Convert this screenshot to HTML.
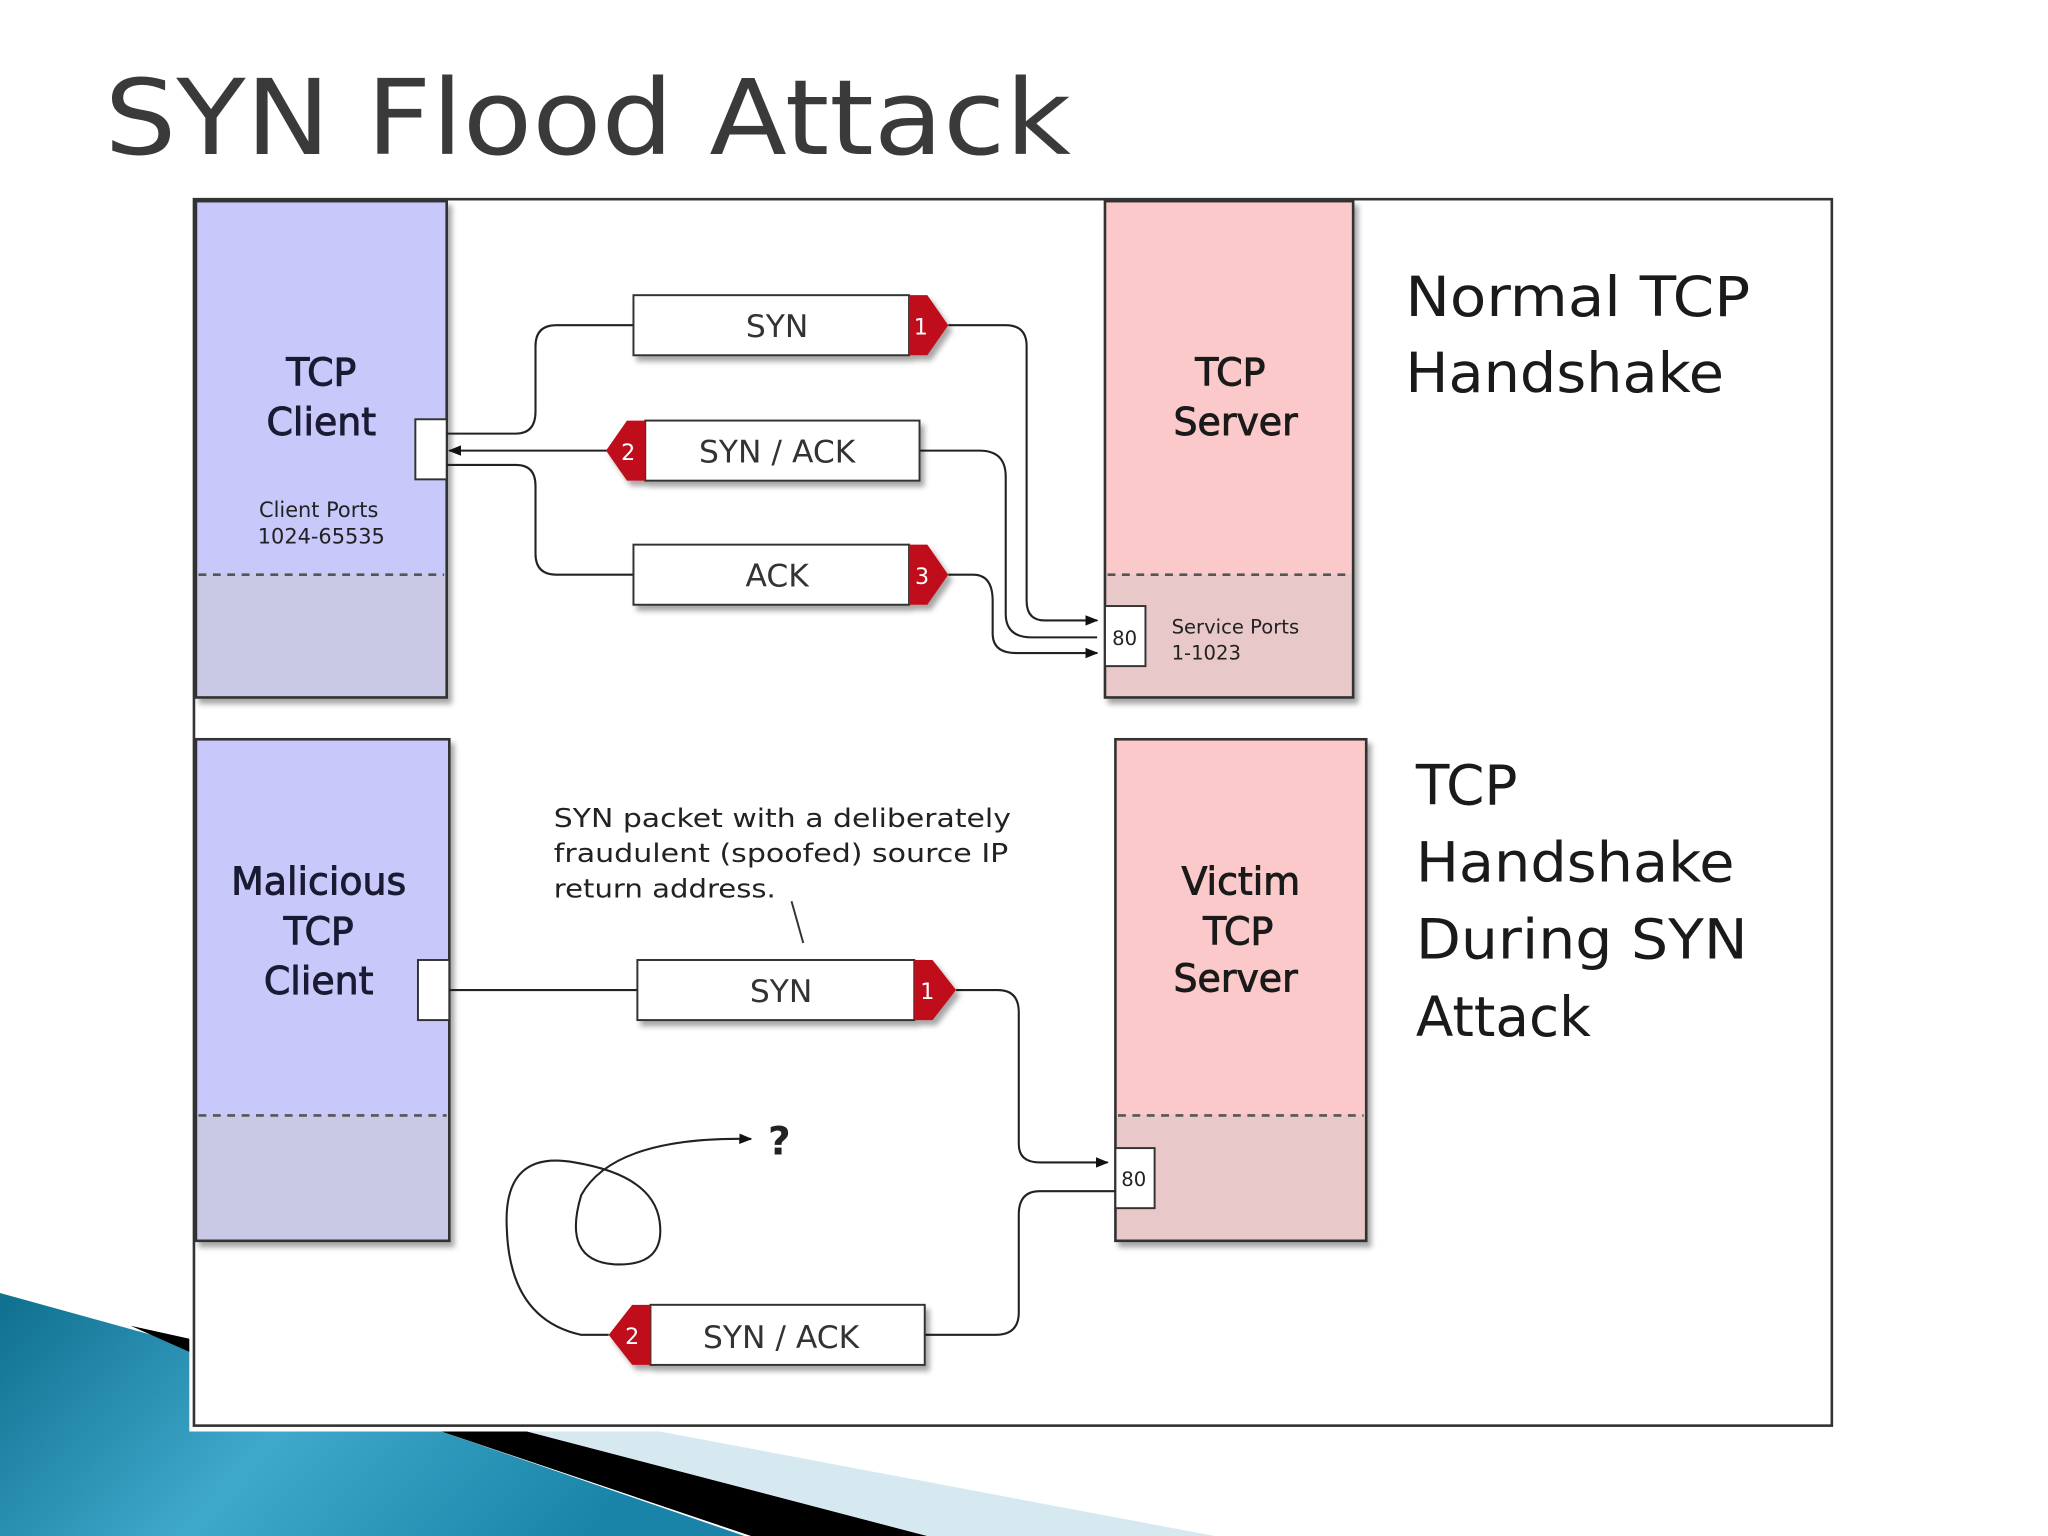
<!DOCTYPE html>
<html><head><meta charset="utf-8"><style>
html,body{margin:0;padding:0;background:#fff;}
svg{display:block;}
text{font-family:"DejaVu Sans","Liberation Sans",sans-serif;}
.sb{stroke-width:0.7px;}
</style></head><body>
<svg width="2048" height="1536" viewBox="0 0 1568 1176" xmlns="http://www.w3.org/2000/svg">
<defs>
<linearGradient id="teal" x1="0" y1="0" x2="1" y2="0.3">
<stop offset="0" stop-color="#0f6f8f"/><stop offset="0.5" stop-color="#3fa9cc"/><stop offset="1" stop-color="#1a84a8"/>
</linearGradient>
<marker id="ar" markerWidth="10" markerHeight="10" refX="9" refY="5" orient="auto" markerUnits="userSpaceOnUse"><path d="M0,1 L10,5 L0,9 Z" fill="#111"/></marker>
<filter id="sh" x="-10%" y="-10%" width="130%" height="140%"><feDropShadow dx="3" dy="4" stdDeviation="2" flood-color="#000" flood-opacity="0.35"/></filter>
</defs>
<polygon points="0,990 145,1030 145,1095 335,1095 570,1176 0,1176" fill="url(#teal)"/>
<polygon points="100,1015 145,1025 145,1035" fill="#000"/>
<polygon points="335,1095 400,1095 710,1176 575,1176" fill="#000"/>
<polygon points="400,1095 500,1095 930,1176 710,1176" fill="#d6e9f1"/>
<text x="80" y="118" font-size="80" fill="#3a3a3a" textLength="740" lengthAdjust="spacingAndGlyphs">SYN Flood Attack</text>
<rect x="145" y="150" width="1262" height="946" fill="#fff"/>
<rect x="148.5" y="152.5" width="1254" height="939" fill="none" stroke="#333" stroke-width="2"/>
<g filter="url(#sh)">
<rect x="150" y="154" width="192" height="286" fill="#c8c8fa"/>
<rect x="150" y="440" width="192" height="94" fill="#c9c9e6"/>
<rect x="150" y="154" width="192" height="380" fill="none" stroke="#333" stroke-width="2"/>
</g>
<line x1="152" y1="440" x2="340" y2="440" stroke="#555" stroke-width="2" stroke-dasharray="6,5"/>
<g font-size="29" text-anchor="middle" class="sb">
<text x="246" y="295" fill="#1a1a33" stroke="#1a1a33">TCP</text>
<text x="246" y="333" fill="#1a1a33" stroke="#1a1a33">Client</text>
<text x="942" y="295" fill="#1a1a1a" stroke="#1a1a1a">TCP</text>
<text x="946" y="333" fill="#1a1a1a" stroke="#1a1a1a">Server</text>
</g>
<text x="244" y="396" font-size="16" text-anchor="middle" fill="#222">Client Ports</text>
<text x="246" y="416" font-size="16" text-anchor="middle" fill="#222">1024-65535</text>
<rect x="318" y="321" width="24" height="46" fill="#fff" stroke="#333" stroke-width="1.5"/>
<g filter="url(#sh)">
<rect x="846" y="154" width="190" height="286" fill="#fbc9c9"/>
<rect x="846" y="440" width="190" height="94" fill="#e8c8c8"/>
<rect x="846" y="154" width="190" height="380" fill="none" stroke="#333" stroke-width="2"/>
</g>
<line x1="848" y1="440" x2="1034" y2="440" stroke="#555" stroke-width="2" stroke-dasharray="6,5"/>
<g font-size="29" text-anchor="middle" class="sb">
<text x="942" y="295" fill="#1a1a1a" stroke="#1a1a1a">TCP</text>
<text x="946" y="333" fill="#1a1a1a" stroke="#1a1a1a">Server</text>
</g>
<rect x="846" y="464" width="31" height="46" fill="#fff" stroke="#333" stroke-width="1.5"/>
<text x="861" y="494" font-size="15" text-anchor="middle" fill="#222">80</text>
<text x="897" y="485" font-size="15" fill="#222">Service Ports</text>
<text x="897" y="505" font-size="15" fill="#222">1-1023</text>
<g fill="none" stroke="#222" stroke-width="1.6">
<path d="M342,332 L395,332 Q410,332 410,315 L410,265 Q410,249 426,249 L485,249"/>
<path d="M726,249 L770,249 Q786,249 786,265 L786,460 Q786,475 800,475 L840,475" marker-end="url(#ar)"/>
<path d="M465,345 L344,345" marker-end="url(#ar)"/>
<path d="M704,345 L750,345 Q770,345 770,365 L770,470 Q770,488 790,488 L840,488"/>
<path d="M342,356 L395,356 Q410,356 410,372 L410,424 Q410,440 426,440 L485,440"/>
<path d="M726,440 L745,440 Q760,440 760,460 L760,485 Q760,500 778,500 L840,500" marker-end="url(#ar)"/>
</g>
<g filter="url(#sh)">
<rect x="485" y="226" width="211" height="46" fill="#fff" stroke="#333" stroke-width="1.5"/>
<polygon points="696,226 710,226 726,249 710,272 696,272" fill="#c0101a"/>
<rect x="494" y="322" width="210" height="46" fill="#fff" stroke="#333" stroke-width="1.5"/>
<polygon points="494,322 480,322 464,345 480,368 494,368" fill="#c0101a"/>
<rect x="485" y="417" width="211" height="46" fill="#fff" stroke="#333" stroke-width="1.5"/>
<polygon points="696,417 710,417 726,440 710,463 696,463" fill="#c0101a"/>
</g>
<text x="595" y="258" font-size="24" text-anchor="middle" fill="#333">SYN</text>
<text x="705" y="256" font-size="17" text-anchor="middle" fill="#fff">1</text>
<text x="595" y="354" font-size="24" text-anchor="middle" fill="#333">SYN / ACK</text>
<text x="481" y="352" font-size="17" text-anchor="middle" fill="#fff">2</text>
<text x="595" y="449" font-size="24" text-anchor="middle" fill="#333">ACK</text>
<text x="706" y="447" font-size="17" text-anchor="middle" fill="#fff">3</text>
<text x="1076" y="242" font-size="42" fill="#1a1a1a" textLength="264" lengthAdjust="spacingAndGlyphs">Normal TCP</text>
<text x="1076" y="300" font-size="42" fill="#1a1a1a" textLength="244" lengthAdjust="spacingAndGlyphs">Handshake</text>
<g filter="url(#sh)">
<rect x="150" y="566" width="194" height="288" fill="#c8c8fa"/>
<rect x="150" y="854" width="194" height="96" fill="#c9c9e6"/>
<rect x="150" y="566" width="194" height="384" fill="none" stroke="#333" stroke-width="2"/>
</g>
<line x1="152" y1="854" x2="342" y2="854" stroke="#555" stroke-width="2" stroke-dasharray="6,5"/>
<g font-size="29" text-anchor="middle" class="sb">
<text x="244" y="685" fill="#1a1a33" stroke="#1a1a33">Malicious</text>
<text x="244" y="723" fill="#1a1a33" stroke="#1a1a33">TCP</text>
<text x="244" y="761" fill="#1a1a33" stroke="#1a1a33">Client</text>
</g>
<rect x="320" y="735" width="24" height="46" fill="#fff" stroke="#333" stroke-width="1.5"/>
<g filter="url(#sh)">
<rect x="854" y="566" width="192" height="288" fill="#fbc9c9"/>
<rect x="854" y="854" width="192" height="96" fill="#e8c8c8"/>
<rect x="854" y="566" width="192" height="384" fill="none" stroke="#333" stroke-width="2"/>
</g>
<line x1="856" y1="854" x2="1044" y2="854" stroke="#555" stroke-width="2" stroke-dasharray="6,5"/>
<g font-size="29" text-anchor="middle" class="sb">
<text x="950" y="685" fill="#1a1a1a" stroke="#1a1a1a">Victim</text>
<text x="948" y="723" fill="#1a1a1a" stroke="#1a1a1a">TCP</text>
<text x="946" y="759" fill="#1a1a1a" stroke="#1a1a1a">Server</text>
</g>
<rect x="854" y="879" width="30" height="46" fill="#fff" stroke="#333" stroke-width="1.5"/>
<text x="868" y="908" font-size="15" text-anchor="middle" fill="#222">80</text>
<text x="424" y="633" font-size="20" fill="#222" textLength="350" lengthAdjust="spacingAndGlyphs">SYN packet with a deliberately</text>
<text x="424" y="660" font-size="20" fill="#222" textLength="348" lengthAdjust="spacingAndGlyphs">fraudulent (spoofed) source IP</text>
<text x="424" y="687" font-size="20" fill="#222" textLength="170" lengthAdjust="spacingAndGlyphs">return address.</text>
<line x1="606" y1="690" x2="615" y2="722" stroke="#333" stroke-width="1.5"/>
<g fill="none" stroke="#222" stroke-width="1.6">
<path d="M344,758 L488,758"/>
<path d="M732,758 L764,758 Q780,758 780,775 L780,876 Q780,890 796,890 L848,890" marker-end="url(#ar)"/>
<path d="M854,912 L796,912 Q780,912 780,930 L780,1005 Q780,1022 762,1022 L708,1022"/>
<path d="M466,1022 L445,1022 Q390,1010 388,940 Q385,880 440,890 Q500,900 505,935 Q510,970 470,968 Q430,965 445,915 Q470,870 575,872" marker-end="url(#ar)"/>
</g>
<text x="588" y="884" font-size="30" font-weight="bold" fill="#222">?</text>
<g filter="url(#sh)">
<rect x="488" y="735" width="212" height="46" fill="#fff" stroke="#333" stroke-width="1.5"/>
<polygon points="700,735 714,735 732,758 714,781 700,781" fill="#c0101a"/>
<rect x="498" y="999" width="210" height="46" fill="#fff" stroke="#333" stroke-width="1.5"/>
<polygon points="498,999 484,999 466,1022 484,1045 498,1045" fill="#c0101a"/>
</g>
<text x="598" y="767" font-size="24" text-anchor="middle" fill="#333">SYN</text>
<text x="710" y="765" font-size="17" text-anchor="middle" fill="#fff">1</text>
<text x="598" y="1032" font-size="24" text-anchor="middle" fill="#333">SYN / ACK</text>
<text x="484" y="1029" font-size="17" text-anchor="middle" fill="#fff">2</text>
<text x="1084" y="616" font-size="42" fill="#1a1a1a">TCP</text>
<text x="1084" y="675" font-size="42" fill="#1a1a1a" textLength="244" lengthAdjust="spacingAndGlyphs">Handshake</text>
<text x="1084" y="734" font-size="42" fill="#1a1a1a" textLength="254" lengthAdjust="spacingAndGlyphs">During SYN</text>
<text x="1084" y="793" font-size="42" fill="#1a1a1a">Attack</text>
</svg>
</body></html>
